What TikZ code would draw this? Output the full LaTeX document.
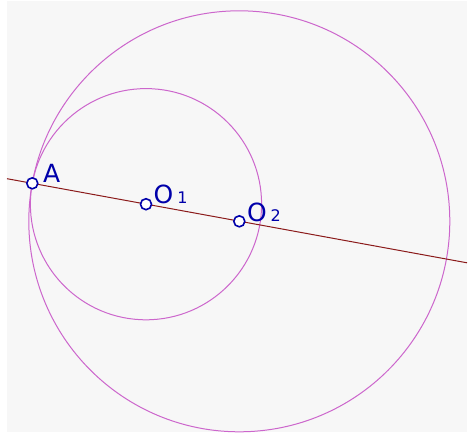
\documentclass[tikz,border=0pt]{standalone}
\usepackage{fontspec}
\setmainfont{DejaVu Sans}
\usetikzlibrary{calc}
\definecolor{bgc}{HTML}{F7F7F7}
\definecolor{circc}{HTML}{CC66CC}
\definecolor{linec}{HTML}{8B1A1A}
\definecolor{ptc}{HTML}{0000AA}
\tikzset{
  pt/.style={circle,draw=ptc,fill=white,line width=1.6pt,minimum size=11pt,inner sep=0pt},
  lbl/.style={text=ptc,font=\fontsize{25}{25}\selectfont,inner sep=0pt,anchor=base west},
  circ/.style={draw=circc,line width=1pt},
  ln/.style={draw=linec,line width=1pt}
}
\newcommand{\subdig}[1]{\hspace{4pt}{\fontsize{16}{16}\selectfont #1}}
\begin{document}
\begin{tikzpicture}[x=1pt,y=-1pt]
\useasboundingbox (0,0) rectangle (469,434);
\fill[white] (0,0) rectangle (469,434);
\fill[bgc] (7,1) rectangle (467,432);
\coordinate (Ac) at (32.3,183.3);
\coordinate (O1c) at (146,204.2);
\coordinate (O2c) at (239.3,221.3);
\coordinate (L) at (7,178.7);
\coordinate (R) at (467,262.8);
\draw[circ] (O2c) circle (210.5);
\draw[circ] (O1c) circle (115.6);
\draw[ln] (L) -- (R);
\node[pt] (A) at (Ac) {};
\node[pt] (O1) at (O1c) {};
\node[pt] (O2) at (O2c) {};
\node[lbl] (lA) at ($(Ac)+(10.5,-1)$) {A};
\node[lbl] (lO1) at ($(O1c)+(7.5,-0.5)$) {O\subdig{1}};
\node[lbl] (lO2) at ($(O2c)+(7.5,0.5)$) {O\subdig{2}};
\end{tikzpicture}
\end{document}
